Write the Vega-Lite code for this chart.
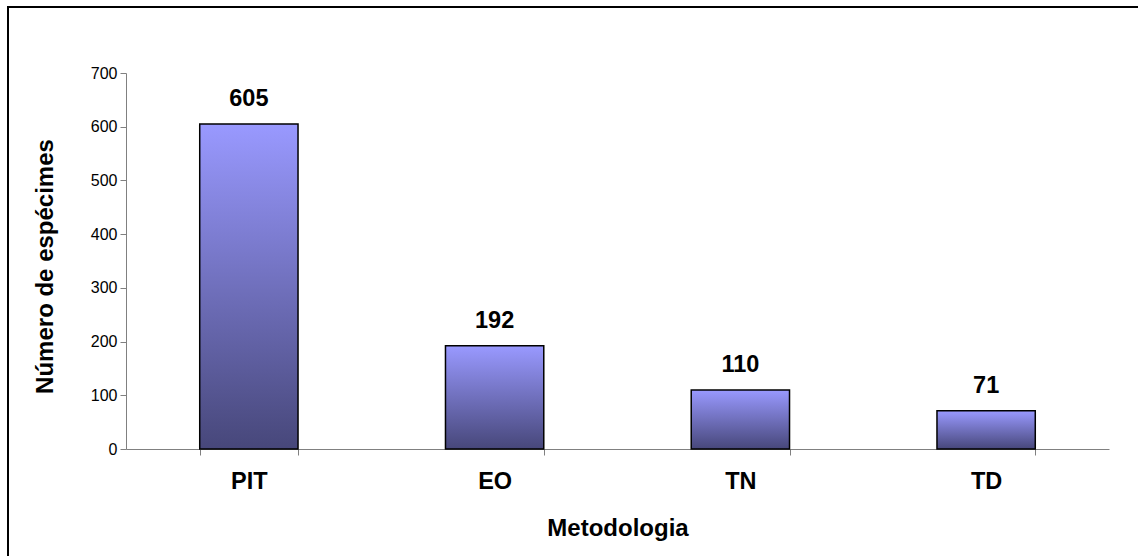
{
  "$schema": "https://vega.github.io/schema/vega-lite/v6.json",
  "autosize": {"type": "none"},
  "padding": {"left": 8, "top": 7, "right": -3, "bottom": -3},
  "width": 1133,
  "height": 552,
  "background": "white",
  "config": {
    "font": "Liberation Sans",
    "view": {"stroke": "black", "strokeWidth": 2},
    "axis": {"grid": false, "domainColor": "#808080", "tickColor": "#808080", "labelColor": "black", "titleColor": "black"}
  },
  "data": {
    "values": [
      {"Metodologia": "PIT", "especimes": 605},
      {"Metodologia": "EO", "especimes": 192},
      {"Metodologia": "TN", "especimes": 110},
      {"Metodologia": "TD", "especimes": 71}
    ]
  },
  "encoding": {
    "x": {
      "field": "Metodologia",
      "type": "nominal",
      "sort": null,
      "scale": {"range": [118, 1101], "paddingInner": 0.6, "paddingOuter": 0.3},
      "axis": {
        "title": "Metodologia",
        "offset": -110,
        "labelAngle": 0,
        "tickBand": "extent",
        "tickSize": 6,
        "labelPadding": 14,
        "labelFontSize": 23.5,
        "labelFontWeight": "bold",
        "titleFontSize": 24,
        "titleFontWeight": "bold",
        "titleBaseline": "alphabetic",
        "titleY": 86
      }
    },
    "y": {
      "field": "especimes",
      "type": "quantitative",
      "scale": {"domain": [0, 700], "nice": false, "range": [442, 66]},
      "axis": {
        "title": "Número de espécimes",
        "offset": -118,
        "values": [0, 100, 200, 300, 400, 500, 600, 700],
        "tickSize": 6,
        "labelPadding": 3,
        "labelFontSize": 16,
        "titleFontSize": 24,
        "titleFontWeight": "bold",
        "titleBaseline": "alphabetic",
        "titleX": -74,
        "titleY": 259
      }
    }
  },
  "layer": [
    {
      "mark": {
        "type": "bar",
        "stroke": "black",
        "strokeWidth": 1.5,
        "color": {
          "gradient": "linear",
          "x1": 0, "y1": 0, "x2": 0, "y2": 1,
          "stops": [
            {"offset": 0, "color": "#9999ff"},
            {"offset": 1, "color": "#47477a"}
          ]
        }
      }
    },
    {
      "mark": {
        "type": "text",
        "baseline": "alphabetic",
        "dy": -18,
        "fontSize": 23.5,
        "fontWeight": "bold",
        "color": "black"
      },
      "encoding": {"text": {"field": "especimes", "type": "quantitative"}}
    }
  ]
}
